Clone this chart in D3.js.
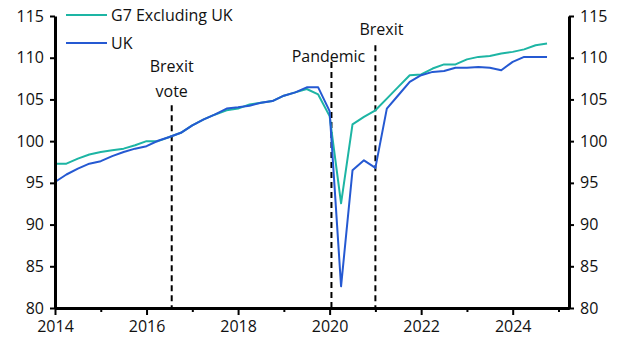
<!DOCTYPE html>
<html>
<head>
<meta charset="utf-8">
<script src="https://cdn.jsdelivr.net/npm/d3@7"></script>
<style>
  body { margin: 0; background: #fff; }
  svg text { font-family: "Open Sans", sans-serif; fill: #111; }
</style>
</head>
<body>
<div id="chart"></div>
<script>
// quarterly index, 2014Q1 .. 2024Q4
const quarters = d3.range(44).map(i => 2014 + i / 4)

const g7ExUK = [
  97.3, 97.3, 97.9, 98.4,
  98.7, 98.9, 99.1, 99.5,
  100.0, 100.0, 100.5, 101.0,
  101.9, 102.6, 103.2, 103.7,
  103.9, 104.4, 104.6, 104.8,
  105.45, 105.85, 106.25, 105.6,
  103.0, 92.55, 102.0, 102.9,
  103.7, 105.1, 106.5, 107.9,
  108.0, 108.7, 109.2, 109.2,
  109.8, 110.1, 110.2, 110.5,
  110.7, 111.0, 111.5, 111.7
]

const uk = [
  95.1, 96.0, 96.7, 97.3,
  97.6, 98.2, 98.7, 99.1,
  99.4, 100.05, 100.5, 101.0,
  101.9, 102.6, 103.2, 103.9,
  104.05, 104.25, 104.6, 104.8,
  105.45, 105.85, 106.45, 106.45,
  103.6, 82.6, 96.5, 97.7,
  96.8, 103.9, 105.5, 107.1,
  107.9, 108.3, 108.4, 108.8,
  108.8, 108.9, 108.8, 108.5,
  109.5, 110.1, 110.1, 110.1
]

const events = [
  { name: ["Brexit", "vote"], date: 2016.55, top: 104.3 },
  { name: ["Pandemic"], date: 2020.04, top: 109.5 },
  { name: ["Brexit"], date: 2021.0, top: 111.5 }
]

const yTicks = [80, 85, 90, 95, 100, 105, 110, 115]
const xMajor = [2014, 2016, 2018, 2020, 2022, 2024]
const xMinor = [2015, 2017, 2019, 2021, 2023, 2025]

const series = [
  { name: "G7 Excluding UK", values: g7ExUK, color: "#1db5a4" },
  { name: "UK", values: uk, color: "#2559d2" }
]

let width = 627
let height = 352
const margin = { top: 16, right: 58, bottom: 44, left: 55 }

const svg = d3.select("#chart").append("svg")
  .attr("width", width).attr("height", height)

const x = d3.scaleLinear()
  .domain([2014, 2025.23])
  .range([margin.left, width - margin.right])

const y = d3.scaleLinear()
  .domain([80, 115])
  .range([height - margin.bottom, margin.top])

// event markers
const ev = svg.append("g")
ev.selectAll("line")
  .data(events)
  .join("line")
  .attr("x1", d => x(d.date)).attr("x2", d => x(d.date))
  .attr("y1", d => y(d.top)).attr("y2", y(80))
  .attr("stroke", "#000")
  .attr("stroke-width", 2)
  .attr("stroke-dasharray", "6,4")

// event labels
svg.append("text").attr("x", x(2016.55)).attr("y", 72).attr("text-anchor", "middle")
  .style("font-size", "16px").text("Brexit")
svg.append("text").attr("x", x(2016.55)).attr("y", 97).attr("text-anchor", "middle")
  .style("font-size", "16px").text("vote")
svg.append("text").attr("x", x(2020.04) - 3).attr("y", 62).attr("text-anchor", "middle")
  .style("font-size", "16px").text("Pandemic")
svg.append("text").attr("x", x(2021.0) + 6).attr("y", 35).attr("text-anchor", "middle")
  .style("font-size", "16px").text("Brexit")

// lines
const line = d3.line()
  .x((d, i) => x(quarters[i]))
  .y(d => y(d))

svg.selectAll(".series")
  .data(series)
  .join("path")
  .attr("class", "series")
  .attr("fill", "none")
  .attr("stroke", d => d.color)
  .attr("stroke-width", 2)
  .attr("stroke-linejoin", "round")
  .attr("d", d => line(d.values))

// axes
const leftAxis = d3.axisLeft(y).tickValues(yTicks).tickSize(5).tickPadding(6)
const rightAxis = d3.axisRight(y).tickValues(yTicks).tickSize(5).tickPadding(6)
const bottomAxis = d3.axisBottom(x).tickValues(xMajor).tickFormat(d3.format("d")).tickSize(7).tickPadding(6)
const minorAxis = d3.axisBottom(x).tickValues(xMinor).tickFormat("").tickSize(4)

const styleAxis = g => {
  g.select(".domain").attr("stroke", "#000").attr("stroke-width", 3)
  g.selectAll(".tick line").attr("stroke", "#000").attr("stroke-width", 2)
  g.selectAll(".tick text").style("font-size", "16px").attr("fill", "#111")
    .style("font-family", "'Open Sans', sans-serif")
}

svg.append("g").attr("transform", `translate(${margin.left},0)`)
  .call(leftAxis.tickSizeOuter(0)).call(styleAxis)
svg.append("g").attr("transform", `translate(${width - margin.right},0)`)
  .call(rightAxis.tickSizeOuter(0)).call(styleAxis)
svg.append("g").attr("transform", `translate(0,${height - margin.bottom})`)
  .call(minorAxis.tickSizeOuter(0)).call(styleAxis)
svg.append("g").attr("transform", `translate(0,${height - margin.bottom})`)
  .call(bottomAxis.tickSizeOuter(0)).call(styleAxis)

// legend
const legend = svg.append("g")
series.forEach((s, i) => {
  const ly = 15 + i * 28
  legend.append("line")
    .attr("x1", 66).attr("x2", 107).attr("y1", ly).attr("y2", ly)
    .attr("stroke", s.color).attr("stroke-width", 2)
  legend.append("text")
    .attr("x", 111).attr("y", ly + 6)
    .style("font-size", "16px")
    .text(s.name)
})
</script>
</body>
</html>
